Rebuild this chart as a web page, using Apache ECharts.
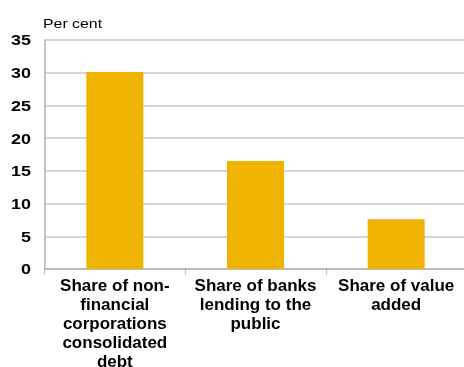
<!DOCTYPE html>
<html>
<head>
<meta charset="utf-8">
<script src="https://cdn.jsdelivr.net/npm/echarts@6/dist/echarts.min.js"></script>
<style>
  html, body { margin: 0; padding: 0; background: #fff; }
  #chart { width: 464px; height: 367px; }
</style>
</head>
<body>
<div id="chart"></div>
<script>
// Sector shares, per cent
const categories = [
  'Share of non-\nfinancial\ncorporations\nconsolidated\ndebt',
  'Share of banks\nlending to the\npublic',
  'Share of value\nadded'
];
const shareValues = [30.1, 16.5, 7.6];
const yTicks = { min: 0, max: 35, interval: 5 };
const unitLabel = 'Per cent';

const chart = echarts.init(document.getElementById('chart'), null, { renderer: 'canvas' });
const font = '"Liberation Sans", Arial, sans-serif';
const wide = 1.28; // horizontal stretch of the side texts

chart.setOption({
  animation: false,
  textStyle: { fontFamily: font },
  grid: {
    left: 44.5, right: -2.5, top: 40, bottom: 98,
    containLabel: false, outerBoundsMode: 'none'
  },
  xAxis: {
    type: 'category',
    data: categories,
    axisLine: { show: true, lineStyle: { color: '#b4b4b4', width: 1.5 } },
    axisTick: { show: true, alignWithLabel: false, length: 5, lineStyle: { color: '#b4b4b4' } },
    axisLabel: {
      interval: 0, margin: 8,
      color: '#000', fontWeight: 'bold', fontSize: 17, lineHeight: 19,
      fontFamily: font, align: 'center'
    }
  },
  yAxis: {
    type: 'value',
    min: yTicks.min, max: yTicks.max, interval: yTicks.interval,
    axisLine: { show: true, lineStyle: { color: '#b4b4b4', width: 1.5 } },
    axisTick: { show: false },
    splitLine: { show: true, lineStyle: { color: '#c8c8c8', width: 1.5 } },
    axisLabel: { show: false }
  },
  series: [{
    type: 'bar',
    data: shareValues,
    barWidth: 57,
    itemStyle: { color: '#f0b400' }
  }]
});

// Value-axis labels and unit, placed from the axis scale and drawn slightly widened
const sideTexts = [];
for (let v = yTicks.min; v <= yTicks.max; v += yTicks.interval) {
  const py = chart.convertToPixel({ yAxisIndex: 0 }, v);
  sideTexts.push({
    type: 'text', x: 31, y: py + 1.5, scaleX: wide,
    style: {
      text: String(v), align: 'right', verticalAlign: 'middle',
      font: 'bold 14px ' + font, fill: '#000'
    }
  });
}
sideTexts.push({
  type: 'text', x: 43, y: 24, scaleX: 1.22,
  style: {
    text: unitLabel, align: 'left', verticalAlign: 'middle',
    font: '13px ' + font, fill: '#000'
  }
});
chart.setOption({ graphic: sideTexts });
</script>
</body>
</html>
